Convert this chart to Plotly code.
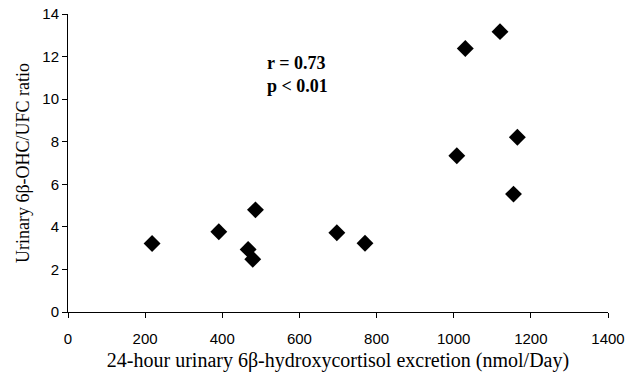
import plotly.graph_objects as go

excretion = [218, 391, 467, 479, 486, 697, 770, 1008, 1030, 1120, 1155, 1165]
ratio = [3.22, 3.77, 2.94, 2.48, 4.80, 3.72, 3.23, 7.34, 12.38, 13.17, 5.54, 8.21]
x_ticks = [0, 200, 400, 600, 800, 1000, 1200, 1400]
y_ticks = [0, 2, 4, 6, 8, 10, 12, 14]

fig = go.Figure()
fig.add_trace(go.Scatter(
    x=excretion, y=ratio, mode="markers",
    marker=dict(symbol="diamond", size=13, color="black"),
    showlegend=False, cliponaxis=False,
))

axis_common = dict(
    showline=True, linecolor="black", linewidth=1,
    ticks="outside", ticklen=5, tickcolor="black",
    showgrid=False, zeroline=False, automargin=False,
    tickfont=dict(family="Liberation Sans, Arial", size=15, color="black"),
)
fig.update_xaxes(range=[0, 1400], tickvals=x_ticks, ticklabelstandoff=8, **axis_common,
                 title=dict(text="24-hour urinary 6β-hydroxycortisol excretion (nmol/Day)",
                            font=dict(family="Liberation Serif, Times New Roman", size=20, color="black"),
                            standoff=6))
fig.update_yaxes(range=[0, 14], tickvals=y_ticks, **axis_common,
                 title=dict(text="Urinary 6β-OHC/UFC ratio",
                            font=dict(family="Liberation Serif, Times New Roman", size=18, color="black"),
                            standoff=8))

fig.add_annotation(x=0.365, y=0.797, xref="paper", yref="paper", xanchor="left", yanchor="middle",
                   text="<b>r = 0.73<br>p < 0.01</b>", showarrow=False, align="left",
                   font=dict(family="Liberation Serif, Times New Roman", size=18, color="black"))

fig.update_layout(
    width=630, height=378,
    margin=dict(l=68, r=22, t=14, b=66),
    plot_bgcolor="white", paper_bgcolor="white",
)
fig.write_html("out.html")
